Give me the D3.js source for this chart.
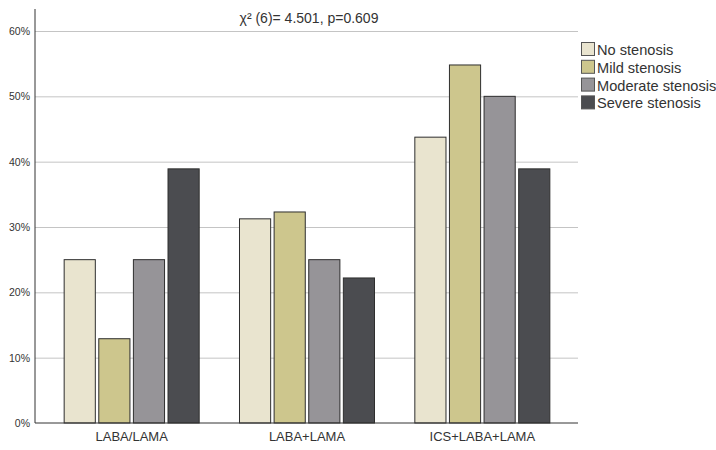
<!DOCTYPE html>
<html>
<head>
<meta charset="utf-8">
<title>stenosis by treatment</title>
<script src="https://d3js.org/d3.v7.min.js"></script>
<style>
  body { margin: 0; background: #fff; }
  svg { font-family: "Liberation Sans", Arial, sans-serif; }
  .grid line { stroke: #c4c4c4; stroke-width: 1px; }
  .grid path { display: none; }
  .y.axis text { font-size: 10.5px; fill: #333; }
  .x.axis text { font-size: 13px; fill: #333; }
  .axis path { stroke: #333; }
  .legend text { font-size: 14.6px; fill: #333; }
</style>
</head>
<body>
<script>
  const width = 716;
  const height = 450;

  const treatments = ["LABA/LAMA", "LABA+LAMA", "ICS+LABA+LAMA"];
  const groups = ["No stenosis", "Mild stenosis", "Moderate stenosis", "Severe stenosis"];
  const colors = ["#e9e4cf", "#cdc68d", "#969498", "#4b4c50"];
  // percent of each stenosis group per treatment
  const noStenosis = [25.0, 31.25, 43.75];
  const mildStenosis = [12.9, 32.3, 54.8];
  const moderateStenosis = [25.0, 25.0, 50.0];
  const severeStenosis = [38.9, 22.2, 38.9];
  const yTicks = [0, 10, 20, 30, 40, 50, 60];
  const title = "χ² (6)= 4.501, p=0.609";

  const series = [noStenosis, mildStenosis, moderateStenosis, severeStenosis];
  const rows = [];
  treatments.forEach((t, i) => {
    groups.forEach((g, j) => rows.push({ t: t, g: g, v: series[j][i], c: colors[j] }));
  });

  const mLeft = 35, mRight = 578, mTop = 9, mBottom = 423;

  const svg = d3.select("body").append("svg")
      .attr("width", width)
      .attr("height", height);

  const x = d3.scaleBand().domain(treatments).range([44, 570]).paddingInner(0.23).paddingOuter(0.115);
  const xg = d3.scaleBand().domain(groups).range([0, x.bandwidth()]).paddingInner(0.1);
  const y = d3.scaleLinear().domain([0, 60]).range([mBottom, 31]);

  // gridlines
  svg.append("g")
      .attr("class", "grid")
      .attr("transform", "translate(" + mLeft + ",0)")
      .call(d3.axisRight(y).tickValues(yTicks.slice(1)).tickSize(mRight - mLeft).tickFormat(""));

  svg.selectAll("rect.bar")
      .data(rows)
      .join("rect")
      .attr("class", "bar")
      .attr("x", d => x(d.t) + xg(d.g))
      .attr("y", d => y(d.v))
      .attr("width", xg.bandwidth())
      .attr("height", d => mBottom - y(d.v))
      .attr("fill", d => d.c)
      .attr("stroke", "#2e2e2e")
      .attr("stroke-width", 1);

  // y axis
  const yAxis = svg.append("g")
      .attr("class", "y axis")
      .attr("transform", "translate(" + mLeft + ",0)")
      .call(d3.axisLeft(y).tickValues(yTicks).tickSize(0).tickPadding(5).tickFormat(d => d + "%"));
  yAxis.select(".domain").attr("d", "M0," + mTop + "V" + mBottom);

  // x axis
  const xAxis = svg.append("g")
      .attr("class", "x axis")
      .attr("transform", "translate(0," + mBottom + ")")
      .call(d3.axisBottom(x).tickSize(0).tickPadding(9));
  xAxis.select(".domain").attr("d", "M" + mLeft + ",0H" + mRight);

  svg.append("text")
      .attr("x", 309)
      .attr("y", 23)
      .attr("text-anchor", "middle")
      .attr("font-size", 14)
      .attr("fill", "#333")
      .text(title);

  const legend = svg.append("g").attr("class", "legend");
  groups.forEach((g, j) => {
    const ly = 42 + j * 17.8;
    legend.append("rect")
        .attr("x", 581.5).attr("y", ly + 0.5)
        .attr("width", 13).attr("height", 13)
        .attr("fill", colors[j])
        .attr("stroke", "#555");
    legend.append("text")
        .attr("x", 597).attr("y", ly + 13)
        .text(g);
  });
</script>
</body>
</html>
